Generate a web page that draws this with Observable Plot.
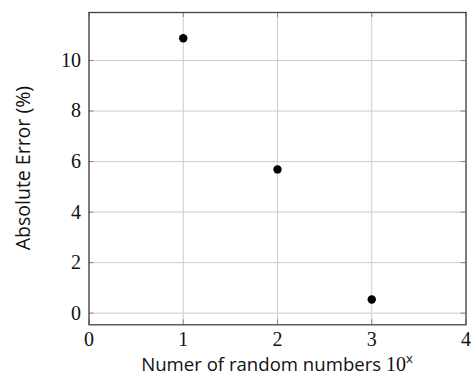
<!DOCTYPE html>
<html><head><meta charset="utf-8">
<script src="https://cdn.jsdelivr.net/npm/d3@7"></script>
<script src="https://cdn.jsdelivr.net/npm/@observablehq/plot@0.6"></script>
<style>body{margin:0;background:#fff}</style>
</head><body><div id="chart"></div>
<script>
const exponents = [1, 2, 3];
const errors = [10.88, 5.69, 0.54];
const xTicks = [0, 1, 2, 3, 4];
const yTicks = [0, 2, 4, 6, 8, 10];
const xLabel = "Numer of random numbers ";
const yLabel = "Absolute Error (%)";

const data = exponents.map((e, i) => ({x: e, y: errors[i]}));
const W = 471, H = 379;
const mL = 88.5, mR = 5.5, mT = 12, mB = 54.7;
const pw = W - mL - mR, ph = H - mT - mB;
const serif = "'Liberation Serif', 'DejaVu Serif', serif";
const sans = "'Open Sans', 'DejaVu Sans', sans-serif";

const chart = Plot.plot({
  width: W, height: H,
  marginLeft: mL, marginRight: mR, marginTop: mT, marginBottom: mB,
  x: {domain: [0, 4], ticks: xTicks},
  y: {domain: [-0.46, 11.9], ticks: yTicks},
  style: {background: "#fff"},
  marks: [
    Plot.gridX(xTicks, {stroke: "#cccccc", strokeOpacity: 1}),
    Plot.gridY(yTicks, {stroke: "#cccccc", strokeOpacity: 1}),
    Plot.tickY(yTicks, {y: d => d, stroke: "#888", insetRight: pw - 5}),
    Plot.tickY(yTicks, {y: d => d, stroke: "#888", insetLeft: pw - 5}),
    Plot.tickX(xTicks, {x: d => d, stroke: "#888", insetTop: ph - 5}),
    Plot.tickX(xTicks, {x: d => d, stroke: "#888", insetBottom: ph - 5}),
    Plot.frame({stroke: "#444", strokeWidth: 1.3}),
    Plot.axisX(xTicks, {tickSize: 0, tickPadding: 7, fontSize: 20, fontFamily: serif, fill: "#111", label: null}),
    Plot.axisY(yTicks, {tickSize: 0, tickPadding: 8, fontSize: 20, fontFamily: serif, fill: "#111", label: null}),
    Plot.dot(data, {x: "x", y: "y", r: 4.2, fill: "#000", stroke: "none"})
  ]
});
document.getElementById("chart").appendChild(chart);

const svg = d3.select(chart);
const xt = svg.append("text")
  .attr("x", mL + pw / 2).attr("y", 371)
  .attr("text-anchor", "middle")
  .style("font-family", sans).style("font-size", "18.6px").attr("fill", "#111");
xt.append("tspan").text(xLabel);
xt.append("tspan").style("font-family", serif).style("font-size", "20px").text("10");
xt.append("tspan").attr("dy", -8).style("font-size", "13px").text("x");

svg.append("text")
  .attr("transform", `translate(29.5,${mT + ph / 2}) rotate(-90)`)
  .attr("text-anchor", "middle")
  .style("font-family", sans).style("font-size", "19.5px").attr("fill", "#111")
  .text(yLabel);
</script>
</body></html>
